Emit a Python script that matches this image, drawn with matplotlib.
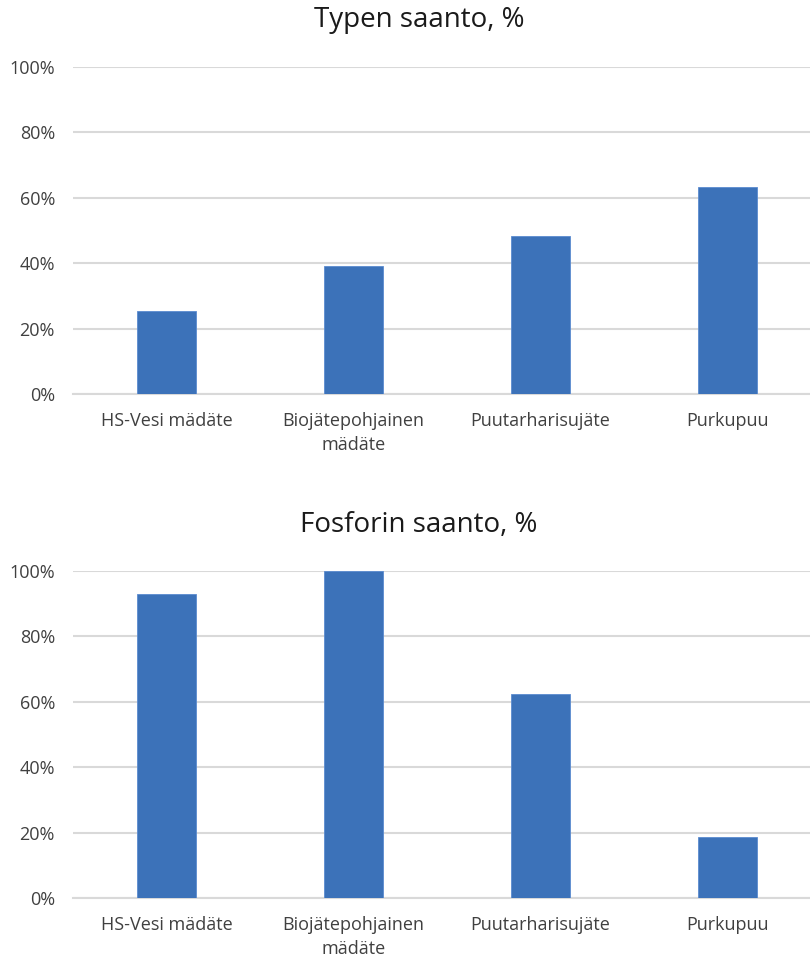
import matplotlib
matplotlib.use("Agg")
import matplotlib.pyplot as plt
from matplotlib.ticker import FuncFormatter

plt.rcParams['font.family'] = ['Open Sans', 'DejaVu Sans']

# data
categories = ["HS-Vesi mädäte", "Biojätepohjainen\nmädäte", "Puutarharisujäte", "Purkupuu"]
typpi = [25.4, 39.1, 48.3, 63.3]
fosfori = [93.0, 100.0, 62.4, 18.7]
titles = ["Typen saanto, %", "Fosforin saanto, %"]
yticks = [0, 20, 40, 60, 80, 100]

bar_color = "#3C72B9"
grid_color = "#D9D9D9"
text_color = "#404040"

fig = plt.figure(figsize=(8.10, 9.61), dpi=100)

# axes positions in figure fractions (left, bottom, width, height)
boxes = [
    (73 / 810, 1 - 394 / 961, 737 / 810, 327 / 961),
    (73 / 810, 1 - 898 / 961, 737 / 810, 327 / 961),
]
title_y = [20, 525]

for box, vals, title, ty in zip(boxes, [typpi, fosfori], titles, title_y):
    ax = fig.add_axes(box)
    x = range(len(categories))
    ax.bar(x, vals, width=0.315, color=bar_color, edgecolor="#5B8BD0", linewidth=0.6, zorder=3)
    ax.set_xlim(-0.5, 3.44)
    ax.set_ylim(0, 100)
    ax.set_yticks(yticks)
    ax.yaxis.set_major_formatter(FuncFormatter(lambda v, p: f"{int(v)}%"))
    ax.set_xticks(list(x))
    ax.set_xticklabels(categories, fontsize=13, color=text_color, linespacing=1.4)
    ax.tick_params(axis="y", labelsize=13, labelcolor=text_color, length=0, pad=13)
    ax.tick_params(axis="x", length=0, pad=13)
    ax.grid(axis="y", color=grid_color, linewidth=1.5, zorder=0)
    for s in ["top", "right", "left"]:
        ax.spines[s].set_visible(False)
    ax.spines["bottom"].set_color(grid_color)
    ax.spines["bottom"].set_linewidth(1.5)
    fig.text(419 / 810, 1 - ty / 961, title, fontsize=20, color="#1a1a1a",
             ha="center", va="center")

fig.savefig("out.png", dpi=100)
